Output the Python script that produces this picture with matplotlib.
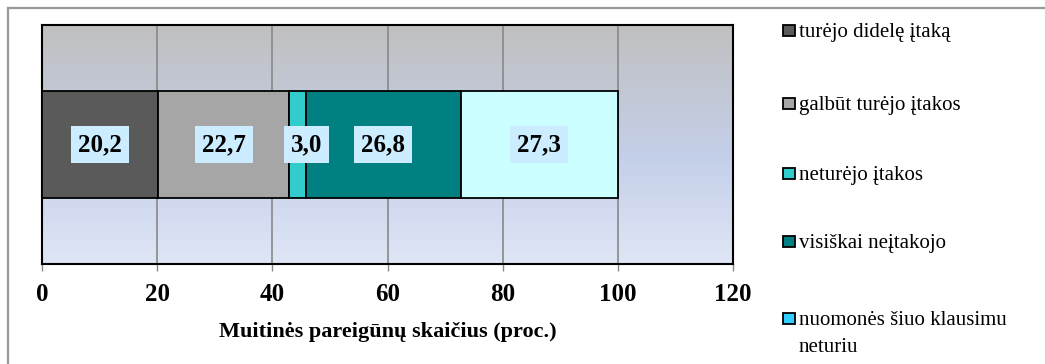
import matplotlib
matplotlib.use("Agg")
import matplotlib.pyplot as plt
import numpy as np
from matplotlib.colors import LinearSegmentedColormap
from matplotlib.patches import Rectangle
from matplotlib.lines import Line2D

categories = [
    "turėjo didelę įtaką",
    "galbūt turėjo įtakos",
    "neturėjo įtakos",
    "visiškai neįtakojo",
    "nuomonės šiuo klausimu\nneturiu",
]
values = [20.2, 22.7, 3.0, 26.8, 27.3]
bar_colors = ["#5A5A5A", "#A6A6A6", "#33CCCC", "#008080", "#CCFFFF"]
legend_colors = ["#5A5A5A", "#A6A6A6", "#33CCCC", "#008080", "#33CCFF"]
x_ticks = [0, 20, 40, 60, 80, 100, 120]
x_label = "Muitinės pareigūnų skaičius (proc.)"

plt.rcParams["font.family"] = ["Liberation Serif", "DejaVu Serif"]

W, H = 1045, 364
fig = plt.figure(figsize=(W / 100, H / 100), dpi=100)
fig.patch.set_facecolor("white")

# plot area in pixel coordinates
left, right, top, bottom = 42, 733, 25, 264
ax = fig.add_axes([left / W, 1 - bottom / H, (right - left) / W, (bottom - top) / H])

# vertical gradient background
grad = LinearSegmentedColormap.from_list(
    "bg", [(0.0, "#C0C0C0"), (0.55, "#C4CFE9"), (1.0, "#DFE6F6")]
)
ax.imshow(np.linspace(0, 1, 256).reshape(-1, 1), cmap=grad, aspect="auto",
          extent=[0, 1, 0, 1], transform=ax.transAxes, zorder=0)

ax.set_xlim(0, 120)
ax.set_ylim(-1, 1)
ax.set_xticks(x_ticks)
ax.set_xticklabels([str(t) for t in x_ticks], fontsize=18, fontweight="bold")
ax.set_yticks([])
ax.grid(axis="x", color="#888888", linewidth=1.2, zorder=1)
ax.tick_params(axis="x", direction="out", length=5, width=1, color="#888888", pad=9)
for s in ax.spines.values():
    s.set_linewidth(1.5)
    s.set_color("black")
ax.set_axisbelow(True)

start = 0.0
for val, col in zip(values, bar_colors):
    ax.barh(0, val, left=start, height=0.9, color=col, edgecolor="black",
            linewidth=1.3, zorder=3)
    cx = start + val / 2
    if val < 5:
        cx += 1.5
    ax.text(cx, 0, f"{val:.1f}".replace(".", ","), ha="center", va="center",
            fontsize=18, fontweight="bold", zorder=5,
            bbox=dict(boxstyle="square,pad=0.28", facecolor="#CCECFF",
                      edgecolor="none"))
    start += val

ax.set_xlabel(x_label, fontsize=16, fontweight="bold", labelpad=11)

# legend on the right, drawn as marker squares plus text (pixel baselines)
baselines = [37, 110, 180, 248, 325]
line_step = 27
for cat, col, b in zip(categories, legend_colors, baselines):
    fig.patches.append(Rectangle((783 / W, 1 - (b - 1) / H), 12 / W, 11 / H,
                                 transform=fig.transFigure, facecolor=col,
                                 edgecolor="black", linewidth=1.3))
    for i, line in enumerate(cat.split("\n")):
        fig.text(799 / W, 1 - (b + i * line_step) / H, line, fontsize=15,
                 va="baseline", ha="left")

# frame lines around the chart
fig.add_artist(Line2D([8 / W, 8 / W], [0, 1 - 8 / H], color="#999999", linewidth=1.6,
                      transform=fig.transFigure))
fig.add_artist(Line2D([8 / W, 1], [1 - 8 / H, 1 - 8 / H], color="#999999", linewidth=1.6,
                      transform=fig.transFigure))

fig.savefig("out.png", dpi=100)
